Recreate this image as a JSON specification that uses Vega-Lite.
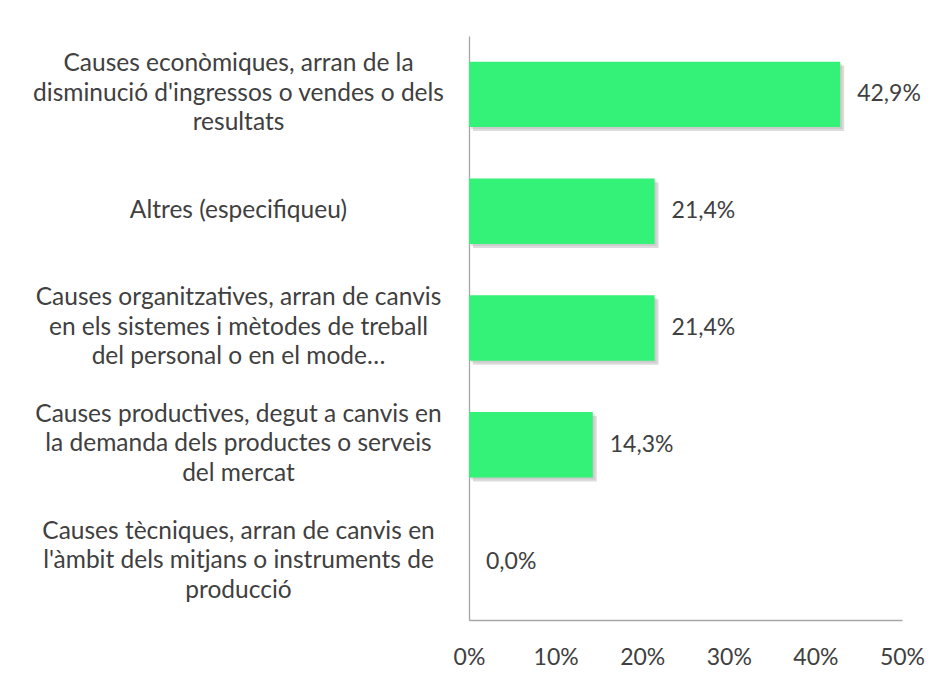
{
  "$schema": "https://vega.github.io/schema/vega-lite/v6.json",
  "width": 433,
  "height": 584,
  "autosize": {"type": "none"},
  "padding": {"left": 469, "top": 36, "right": 42, "bottom": 64},
  "background": "white",
  "config": {
    "view": {"stroke": null},
    "font": "Lato",
    "locale": {"number": {"decimal": ",", "thousands": ".", "grouping": [3], "currency": ["", " €"]}}
  },
  "data": {
    "values": [
      {"cause": "Causes econòmiques, arran de la|disminució d'ingressos o vendes o dels|resultats", "value": 0.4286},
      {"cause": "Altres (especifiqueu)", "value": 0.2143},
      {"cause": "Causes organitzatives, arran de canvis|en els sistemes i mètodes de treball|del personal o en el mode…", "value": 0.2143},
      {"cause": "Causes productives, degut a canvis en|la demanda dels productes o serveis|del mercat", "value": 0.1429},
      {"cause": "Causes tècniques, arran de canvis en|l'àmbit dels mitjans o instruments de|producció", "value": 0.0}
    ]
  },
  "encoding": {
    "y": {
      "field": "cause", "type": "nominal", "sort": null,
      "scale": {"paddingInner": 0.44, "paddingOuter": 0.22},
      "axis": {
        "title": null, "ticks": false, "domainColor": "#A6A6A6", "domainWidth": 1.3,
        "labelExpr": "split(datum.label, '|')",
        "labelAlign": "center", "labelPadding": 231, "labelLineHeight": 29.5,
        "labelOffset": {"condition": {"test": "indexof(datum.label, '|') >= 0", "value": -30}, "value": 0},
        "labelFontSize": 24.5, "labelColor": "#404040", "labelLimit": 0, "labelBaseline": "middle"
      }
    },
    "x": {
      "field": "value", "type": "quantitative",
      "scale": {"domain": [0, 0.5], "nice": false},
      "axis": {
        "title": null, "format": ".0%", "values": [0, 0.1, 0.2, 0.3, 0.4, 0.5],
        "ticks": false, "grid": false, "domainColor": "#A6A6A6", "domainWidth": 1.3,
        "labelFontSize": 23, "labelColor": "#404040", "labelPadding": 26, "labelFlush": false
      }
    }
  },
  "layer": [
    {"mark": {"type": "bar", "color": "#8a8a8a", "opacity": 0.3, "xOffset": 4, "yOffset": 4}},
    {"mark": {"type": "bar", "color": "#b0b0b0", "opacity": 0.35, "xOffset": 2, "yOffset": 2}},
    {"mark": {"type": "bar", "color": "#33F277"}},
    {
      "mark": {"type": "text", "align": "left", "baseline": "middle", "dx": 17, "fontSize": 23, "color": "#404040"},
      "encoding": {"text": {"field": "value", "type": "quantitative", "format": ".1%"}}
    }
  ]
}
